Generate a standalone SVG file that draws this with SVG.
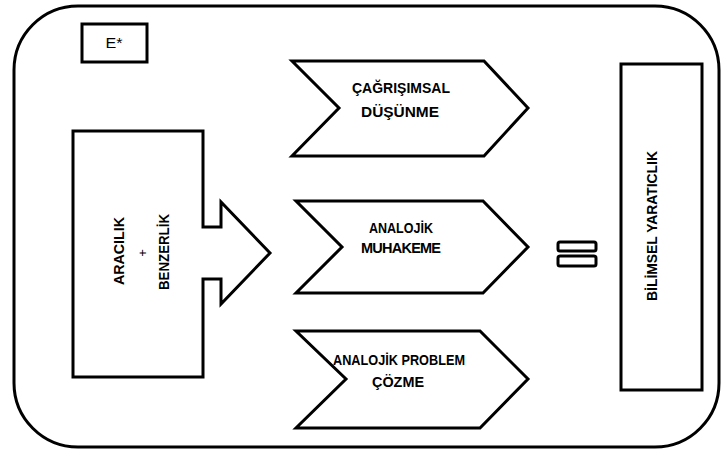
<svg xmlns="http://www.w3.org/2000/svg" width="721" height="453" viewBox="0 0 721 453">
<style>
.s{fill:#fff;stroke:#000;stroke-width:3;stroke-linejoin:miter}
.t{font-family:"Liberation Sans",Arial,sans-serif;font-size:14.5px;font-weight:bold;fill:#000;text-anchor:middle}
.n{font-family:"Liberation Sans",Arial,sans-serif;font-size:15px;fill:#000;text-anchor:middle}
</style>
<rect width="721" height="453" fill="#fff"/>
<g id="frame"><rect class="s" x="14" y="6" width="705" height="441" rx="64" ry="64"/></g>
<g id="label-e"><rect class="s" x="82" y="24" width="65" height="38"/><text class="n" x="114" y="48" textLength="17" lengthAdjust="spacingAndGlyphs">E*</text></g>
<g id="aracilik">
<path class="s" d="M73,131 H203 V227 H221 V202 L270,253 L221,304 V279 H203 V377 H73 Z"/>
<text class="n" style="font-weight:600" transform="translate(124,251) rotate(-90)" textLength="68" lengthAdjust="spacingAndGlyphs">ARACILIK</text>
<text class="n" style="font-size:13px" transform="translate(146.5,253) rotate(-90)">+</text>
<text class="t" transform="translate(169,252) rotate(-90)" textLength="76" lengthAdjust="spacingAndGlyphs">BENZERLİK</text>
</g>
<g id="cagrisimsal">
<path class="s" d="M292,61 H484 L528,108 L484,156 H292 L339,108 Z"/>
<text class="t" x="401" y="93" textLength="98" lengthAdjust="spacingAndGlyphs">ÇAĞRIŞIMSAL</text>
<text class="t" x="400" y="117" textLength="78" lengthAdjust="spacingAndGlyphs">DÜŞÜNME</text>
</g>
<g id="muhakeme">
<path class="s" d="M296,201 H483 L528,247 L483,293 H296 L342,247 Z"/>
<text class="t" x="401" y="233" textLength="64" lengthAdjust="spacingAndGlyphs">ANALOJİK</text>
<text class="t" x="401" y="253" textLength="80" lengthAdjust="spacing">MUHAKEME</text>
</g>
<g id="problem">
<path class="s" d="M296,331 H480 L528,379 L480,428 H296 L346,379 Z"/>
<text class="t" x="399" y="365" textLength="132" lengthAdjust="spacingAndGlyphs">ANALOJİK PROBLEM</text>
<text class="t" x="398" y="387" textLength="52" lengthAdjust="spacingAndGlyphs">ÇÖZME</text>
</g>
<g id="equals">
<rect class="s" x="558" y="242" width="38" height="9" rx="2"/>
<rect class="s" x="558" y="256" width="38" height="10" rx="2"/>
</g>
<g id="yaraticlik">
<rect class="s" x="621" y="64" width="81" height="326"/>
<text class="t" transform="translate(657,226) rotate(-90)" textLength="150" lengthAdjust="spacingAndGlyphs">BİLİMSEL YARATICLIK</text>
</g>
<g id="connectors"></g>
</svg>
